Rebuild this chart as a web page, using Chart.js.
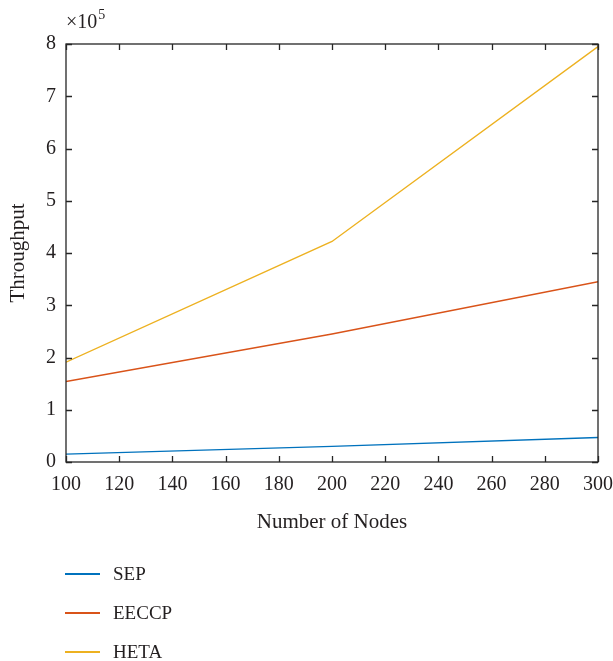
<!DOCTYPE html>
<html>
<head>
<meta charset="utf-8">
<script src="https://cdn.jsdelivr.net/npm/chart.js@4"></script>
<style>
  html, body { margin:0; padding:0; background:#fff; }
  #wrap { position:relative; width:613px; height:661px; }
  canvas { position:absolute; left:0; top:0; }
  .lg { position:absolute; left:65px; height:20px; display:flex; align-items:center;
        font-family:"Liberation Serif","Times New Roman",serif; font-size:19px; color:#231f20; }
  .lg span.ln { display:inline-block; width:35px; height:1.5px; margin-right:13px; }
</style>
</head>
<body>
<div id="wrap"><canvas id="c" width="613" height="661"></canvas></div>
<script>
const nodes = [100, 200, 300];
const sep   = [0.15, 0.30, 0.47];
const eeccp = [1.54, 2.45, 3.45];
const heta  = [1.91, 4.22, 7.95];
const seriesNames = ["SEP", "EECCP", "HETA"];
const seriesColors = ["#0072BD", "#D95319", "#EDB120"];
const xTicks = [100,120,140,160,180,200,220,240,260,280,300];
const yTicks = [0,1,2,3,4,5,6,7,8];

const FONT = '"Liberation Serif","Times New Roman",serif';
const TXT = '#231f20';

const frame = {
  id: 'frame',
  afterDraw(chart) {
    const {ctx, chartArea:a, scales:{x, y}} = chart;
    ctx.save();
    ctx.strokeStyle = '#262626';
    ctx.lineWidth = 1.3;
    ctx.strokeRect(a.left, a.top, a.right - a.left, a.bottom - a.top);
    ctx.beginPath();
    const L = 6;
    xTicks.forEach(v => {
      const px = Math.round(x.getPixelForValue(v)) + 0.5;
      ctx.moveTo(px, a.bottom); ctx.lineTo(px, a.bottom - L);
      ctx.moveTo(px, a.top); ctx.lineTo(px, a.top + L);
    });
    yTicks.forEach(v => {
      const py = Math.round(y.getPixelForValue(v)) + 0.5;
      ctx.moveTo(a.left, py); ctx.lineTo(a.left + L, py);
      ctx.moveTo(a.right, py); ctx.lineTo(a.right - L, py);
    });
    ctx.stroke();
    // exponent label
    ctx.fillStyle = TXT;
    ctx.textBaseline = 'alphabetic';
    ctx.textAlign = 'left';
    ctx.font = '20px ' + FONT;
    ctx.fillText('\u00d710', a.left, 28);
    const w = ctx.measureText('\u00d710').width;
    ctx.font = '14px ' + FONT;
    ctx.fillText('5', a.left + w + 1, 19);
    ctx.restore();
  }
};

const chart = new Chart(document.getElementById('c'), {
  type: 'line',
  data: {
    labels: nodes,
    datasets: [sep, eeccp, heta].map((d, i) => ({
      label: seriesNames[i],
      data: d.map((v, j) => ({x: nodes[j], y: v})),
      borderColor: seriesColors[i],
      backgroundColor: seriesColors[i],
      borderWidth: 1.4,
      pointRadius: 0,
      tension: 0,
      fill: false
    }))
  },
  options: {
    responsive: false,
    animation: false,
    layout: { padding: { top: 44, right: 15, bottom: 118, left: 0 } },
    plugins: { legend: { display: false }, tooltip: { enabled: false } },
    scales: {
      x: {
        type: 'linear', min: 100, max: 300,
        afterBuildTicks: s => { s.ticks = xTicks.map(v => ({value: v})); },
        grid: { display: false, drawTicks: false },
        border: { display: false },
        ticks: { padding: 11, color: TXT, font: { family: FONT, size: 20 }, maxRotation: 0 },
        title: { display: true, text: 'Number of Nodes', color: TXT, font: { family: FONT, size: 21 }, padding: { top: 4, bottom: 8 } },
        afterFit: s => { s.height = 81; s.paddingLeft = 0; s.paddingRight = 0; }
      },
      y: {
        type: 'linear', min: 0, max: 8,
        afterBuildTicks: s => { s.ticks = yTicks.map(v => ({value: v})); },
        grid: { display: false, drawTicks: false },
        border: { display: false },
        ticks: { padding: 10, color: TXT, font: { family: FONT, size: 20 } },
        title: { display: true, text: 'Throughput', color: TXT, font: { family: FONT, size: 21 }, padding: { top: 6, bottom: 4 } },
        afterFit: s => { s.width = 66; s.paddingTop = 0; s.paddingBottom = 0; }
      }
    }
  },
  plugins: [frame]
});

// HTML legend built from datasets
const wrap = document.getElementById('wrap');
const legendY = [564, 603, 642];
seriesNames.forEach((name, i) => {
  const d = document.createElement('div');
  d.className = 'lg';
  d.style.top = legendY[i] + 'px';
  const ln = document.createElement('span');
  ln.className = 'ln';
  ln.style.backgroundColor = seriesColors[i];
  d.appendChild(ln);
  d.appendChild(document.createTextNode(name));
  wrap.appendChild(d);
});
</script>
</body>
</html>
